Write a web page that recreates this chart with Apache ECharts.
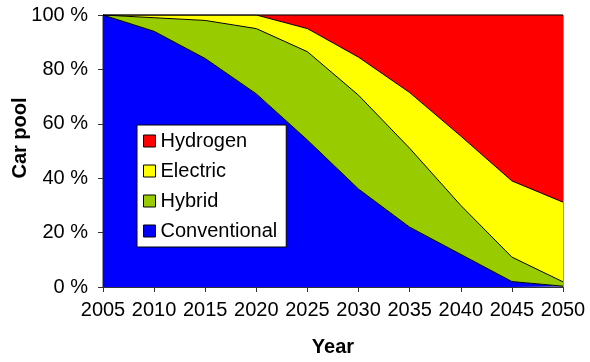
<!DOCTYPE html>
<html><head><meta charset="utf-8">
<script src="https://cdn.jsdelivr.net/npm/echarts@6/dist/echarts.min.js"></script>
<style>html,body{margin:0;padding:0;background:#fff}#c{width:590px;height:362px}</style>
</head><body><div id="c"></div>
<script>
const years = ['2005','2010','2015','2020','2025','2030','2035','2040','2045','2050'];
const conventional = [100, 94, 84, 71, 54, 36, 22, 12, 2, 0.3];
const hybrid = [0, 5, 14, 24, 32.5, 34.5, 29, 18, 9, 1.6];
const electric = [0, 1, 2, 5, 8.5, 14, 20.5, 25.5, 28, 29.3];
const hydrogen = [0, 0, 0, 0, 5, 15.5, 28.5, 44.5, 61, 68.8];
const yTicks = ['0 %','20 %','40 %','60 %','80 %','100 %'];
const yTitle = 'Car pool';
const xTitle = 'Year';

const F = 'Liberation Sans, Arial, sans-serif';
function s(name, data, color) {
  return {
    name, type: 'line', stack: 'all', data, symbol: 'none',
    lineStyle: { color: '#000', width: 1 },
    areaStyle: { color, opacity: 1 },
    itemStyle: { color, borderColor: '#000', borderWidth: 1 },
    emphasis: { disabled: true }, animation: false
  };
}
const chart = echarts.init(document.getElementById('c'));
chart.setOption({
  animation: false,
  grid: { left: 103, right: 27, top: 15, bottom: 75, show: true, borderColor: '#333', borderWidth: 1, outerBoundsMode: 'none' },
  graphic: [{
    type: 'text', x: 20, y: 138, rotation: Math.PI / 2,
    style: { text: yTitle, fill: '#000', font: 'bold 20px ' + F, align: 'center', verticalAlign: 'middle' }
  }],
  legend: {
    orient: 'vertical', left: 137, top: 125,
    data: ['Hydrogen','Electric','Hybrid','Conventional'],
    icon: 'rect', itemWidth: 12, itemHeight: 12, itemGap: 10,
    backgroundColor: '#fff', borderColor: '#000', borderWidth: 1,
    padding: [6, 9, 6, 6], borderRadius: 0,
    itemStyle: { borderColor: '#000', borderWidth: 1 },
    textStyle: { fontFamily: F, fontSize: 20, color: '#000' }
  },
  xAxis: {
    type: 'category', data: years, boundaryGap: false,
    name: xTitle, nameLocation: 'middle', nameGap: 50,
    nameTextStyle: { fontFamily: F, fontSize: 20, fontWeight: 'bold', color: '#000' },
    axisLine: { lineStyle: { color: '#333' } },
    axisTick: { show: true, length: 5, alignWithLabel: true, lineStyle: { color: '#333' } },
    axisLabel: { fontFamily: F, fontSize: 20, color: '#000', margin: 13, interval: 0 },
    splitLine: { show: false }
  },
  yAxis: {
    type: 'value', min: 0, max: 100, interval: 20,
    axisLine: { show: true, lineStyle: { color: '#333' } },
    axisTick: { show: true, length: 5, lineStyle: { color: '#333' } },
    axisLabel: { fontFamily: F, fontSize: 20, color: '#000', margin: 15,
      formatter: v => yTicks[Math.round(v / 20)] },
    splitLine: { show: false }
  },
  series: [
    s('Conventional', conventional, '#0000FF'),
    s('Hybrid', hybrid, '#99CC00'),
    s('Electric', electric, '#FFFF00'),
    s('Hydrogen', hydrogen, '#FF0000')
  ]
});
</script></body></html>
